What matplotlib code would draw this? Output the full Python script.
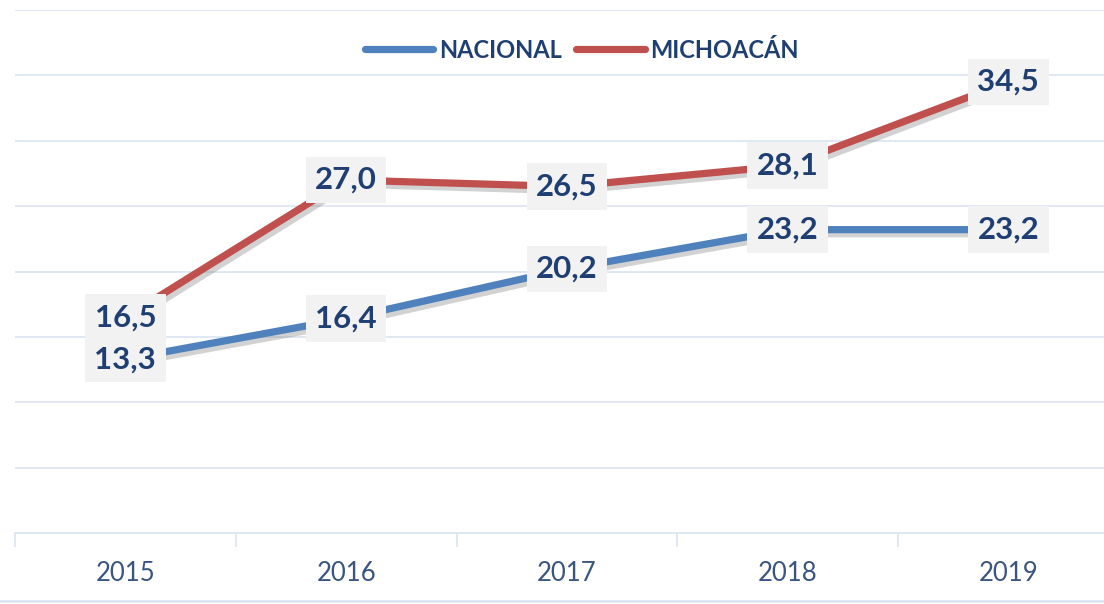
import numpy as np
import matplotlib.pyplot as plt
from matplotlib.lines import Line2D
import matplotlib.patheffects as pe

# data
years = ['2015', '2016', '2017', '2018', '2019']
nacional = [13.3, 16.4, 20.2, 23.2, 23.2]
michoacan = [16.5, 27.0, 26.5, 28.1, 34.5]

blue = '#4F81BD'
red = '#C0504D'
txt = '#1F3F73'
grid = '#DCE6F2'

plt.rcParams['font.family'] = ['Lato', 'DejaVu Sans']

fig = plt.figure(figsize=(11.04, 6.04), dpi=100)
ax = fig.add_axes([15 / 1104, 1 - 533 / 604, 1103.75 / 1104, 523 / 604])

x = np.arange(len(years))
shadow = [pe.SimpleLineShadow(offset=(2.5, -3), shadow_color='#808080', alpha=0.35), pe.Normal()]
ax.plot(x, nacional, color=blue, lw=5.2, solid_capstyle='butt', path_effects=shadow, zorder=3)
ax.plot(x, michoacan, color=red, lw=5.2, solid_capstyle='butt', path_effects=shadow, zorder=3)

for serie in (nacional, michoacan):
    for xi, v in zip(x, serie):
        ax.text(xi, v, f'{v:.1f}'.replace('.', ','), ha='center', va='center',
                fontsize=22.5, fontweight='bold', color=txt, zorder=5,
                bbox=dict(boxstyle='square,pad=0.3', facecolor='#F2F2F2', edgecolor='none'))

ax.set_xlim(-0.5, len(years) - 0.5)
ax.set_ylim(0, 40)
ax.set_yticks(np.arange(0, 41, 5))
ax.set_yticklabels([])
ax.tick_params(axis='y', length=0)
ax.grid(axis='y', color=grid, lw=1.3)
ax.set_axisbelow(True)

ax.set_xticks(x)
ax.set_xticklabels(years, fontsize=18.5, color='#3A5680')
ax.tick_params(axis='x', length=0, pad=20)
ax.set_xticks(np.arange(len(years)) - 0.5, minor=True)
ax.tick_params(axis='x', which='minor', length=10, color=grid, width=1.3)

for s in ['top', 'right', 'left']:
    ax.spines[s].set_visible(False)
ax.spines['bottom'].set_color(grid)
ax.spines['bottom'].set_linewidth(1.3)

handles = [Line2D([], [], color=blue, lw=5.2, solid_capstyle='round'),
           Line2D([], [], color=red, lw=5.2, solid_capstyle='round')]
leg = fig.legend(handles, ['NACIONAL', 'MICHOACÁN'], loc='center', bbox_to_anchor=(0.527, 1 - 50 / 604),
                 ncol=2, frameon=False, handlelength=2.9, handletextpad=0.25, columnspacing=0.6,
                 prop={'size': 17, 'weight': 'bold'})
for t in leg.get_texts():
    t.set_color(txt)

fig.add_artist(Line2D([0, 1], [1 - 601 / 604] * 2, transform=fig.transFigure, color=grid, lw=2))

fig.savefig('out.png', dpi=100)
